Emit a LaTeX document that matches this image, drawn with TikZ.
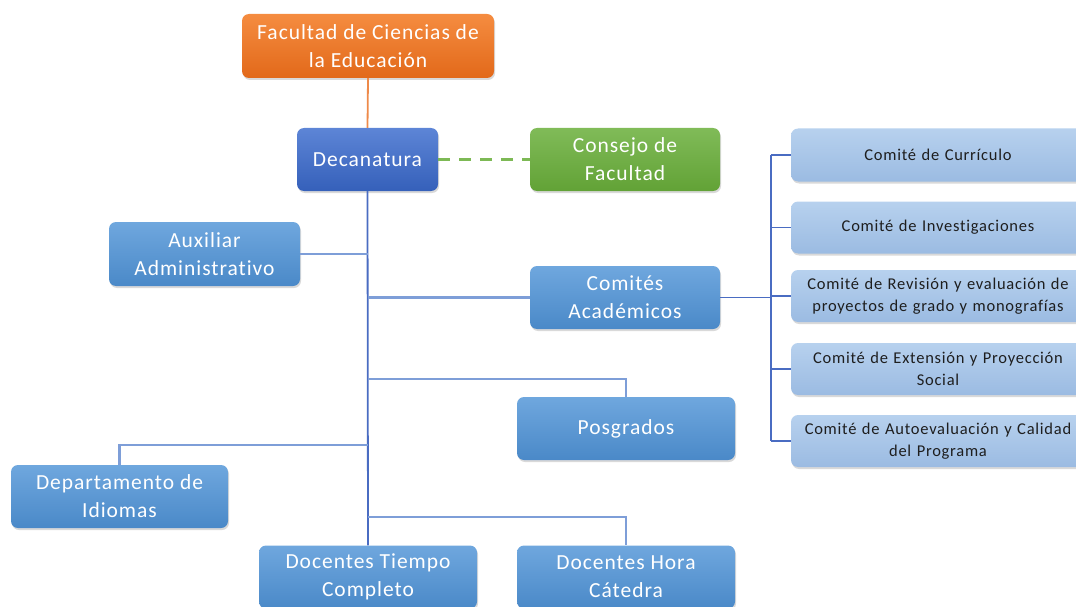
\documentclass[tikz,border=0pt]{standalone}
\usepackage{fontspec}
\setmainfont{Carlito}
\newfontfamily\widefont[LetterSpace=4.5,Ligatures={NoCommon}]{Carlito}
\usetikzlibrary{shadows}
\definecolor{orT}{HTML}{F58C40}
\definecolor{orB}{HTML}{E2691A}
\definecolor{blT}{HTML}{6FA7DE}
\definecolor{blB}{HTML}{4A89C8}
\definecolor{dkT}{HTML}{5D85D6}
\definecolor{dkB}{HTML}{3560BA}
\definecolor{grT}{HTML}{80BB58}
\definecolor{grB}{HTML}{62A236}
\definecolor{ltT}{HTML}{B7D1EE}
\definecolor{ltB}{HTML}{9BBBE2}
\definecolor{trunk}{HTML}{4A6CC2}
\definecolor{branch}{HTML}{7E9ED8}
\definecolor{orline}{HTML}{EE8A4A}
\definecolor{grline}{HTML}{7DB955}
\definecolor{txtdark}{HTML}{1E1E1E}
\begin{document}
\begin{tikzpicture}[x=1pt,y=-1pt,
  basebox/.style={rounded corners=7pt, inner sep=2pt, align=center,
    drop shadow={opacity=0.3, shadow xshift=1pt, shadow yshift=-2pt}},
  mainbox/.style={basebox, text=white, font=\widefont\fontsize{21.5}{28}\selectfont},
  bluebox/.style={mainbox, top color=blT, bottom color=blB},
  comitebox/.style={basebox, top color=ltT, bottom color=ltB, text=txtdark,
    minimum width=294pt, minimum height=53pt, text width=288pt,
    font=\widefont\fontsize{16.5}{22}\selectfont},
  trunkline/.style={draw=trunk, line width=1.8pt},
  branchline/.style={draw=branch, line width=2.4pt}]
\useasboundingbox (0,0) rectangle (1076,607);
\clip (0,0) rectangle (1076,607);

\node[mainbox, top color=orT, bottom color=orB, minimum width=252pt, minimum height=64pt] (fac) at (368,46) {Facultad de Ciencias de\\la Educación};
\node[mainbox, top color=dkT, bottom color=dkB, minimum width=141pt, minimum height=63pt] (dec) at (367.5,159.5) {Decanatura};
\node[mainbox, top color=grT, bottom color=grB, minimum width=190pt, minimum height=63pt] (con) at (625,159.5) {Consejo de\\Facultad};
\node[bluebox, minimum width=191pt, minimum height=64pt] (aux) at (204.5,254) {Auxiliar\\Administrativo};
\node[bluebox, minimum width=190pt, minimum height=63pt] (com) at (625,297.5) {Comités\\Académicos};
\node[bluebox, minimum width=218pt, minimum height=63pt] (pos) at (626,428.5) {Posgrados};
\node[bluebox, minimum width=217pt, minimum height=63pt] (dep) at (119.5,496.5) {Departamento de\\Idiomas};
\node[bluebox, minimum width=218pt, minimum height=63pt] (dtc) at (368,577) {Docentes Tiempo\\Completo};
\node[bluebox, minimum width=218pt, minimum height=63pt] (dhc) at (626,577) {Docentes Hora\\Cátedra};

\node[comitebox] (c1) at (938,155) {Comité de Currículo};
\node[comitebox, minimum height=52pt] (c2) at (938,227.5) {Comité de Investigaciones};
\node[comitebox, minimum height=52pt] (c3) at (938,296) {Comité de Revisión y evaluación de\\proyectos de grado y monografías};
\node[comitebox, minimum height=52pt] (c4) at (938,369) {Comité de Extensión y Proyección\\Social};
\node[comitebox, minimum height=52pt] (c5) at (938,441) {Comité de Autoevaluación y Calidad\\del Programa};

\coordinate (br) at (771,0);
\coordinate (jp) at (368,379);
\coordinate (jd) at (368,445);
\coordinate (jh) at (368,517);

\draw[draw=orline, line width=1.8pt] (fac.south) -- (dec.north);
\draw[draw=grline, line width=2.6pt, dash pattern=on 12pt off 9pt] (dec.east) -- (con.west);
\draw[trunkline] (dec.south) -- (dtc.north);
\draw[branchline] (aux.east) -- (aux.east -| dec.south);
\draw[branchline] (com.west) -- (com.west -| dec.south);
\draw[branchline] (jp) -| (pos.north);
\draw[branchline] (jd) -| (dep.north);
\draw[branchline] (jh) -| (dhc.north);
\draw[trunkline] (com.east) -- (com.east -| br);
\draw[trunkline] (c1.west -| br) -- (c5.west -| br);
\foreach \c in {c1,c2,c3,c4,c5} {\draw[trunkline] (\c.west -| br) -- (\c.west);}
\end{tikzpicture}
\end{document}
